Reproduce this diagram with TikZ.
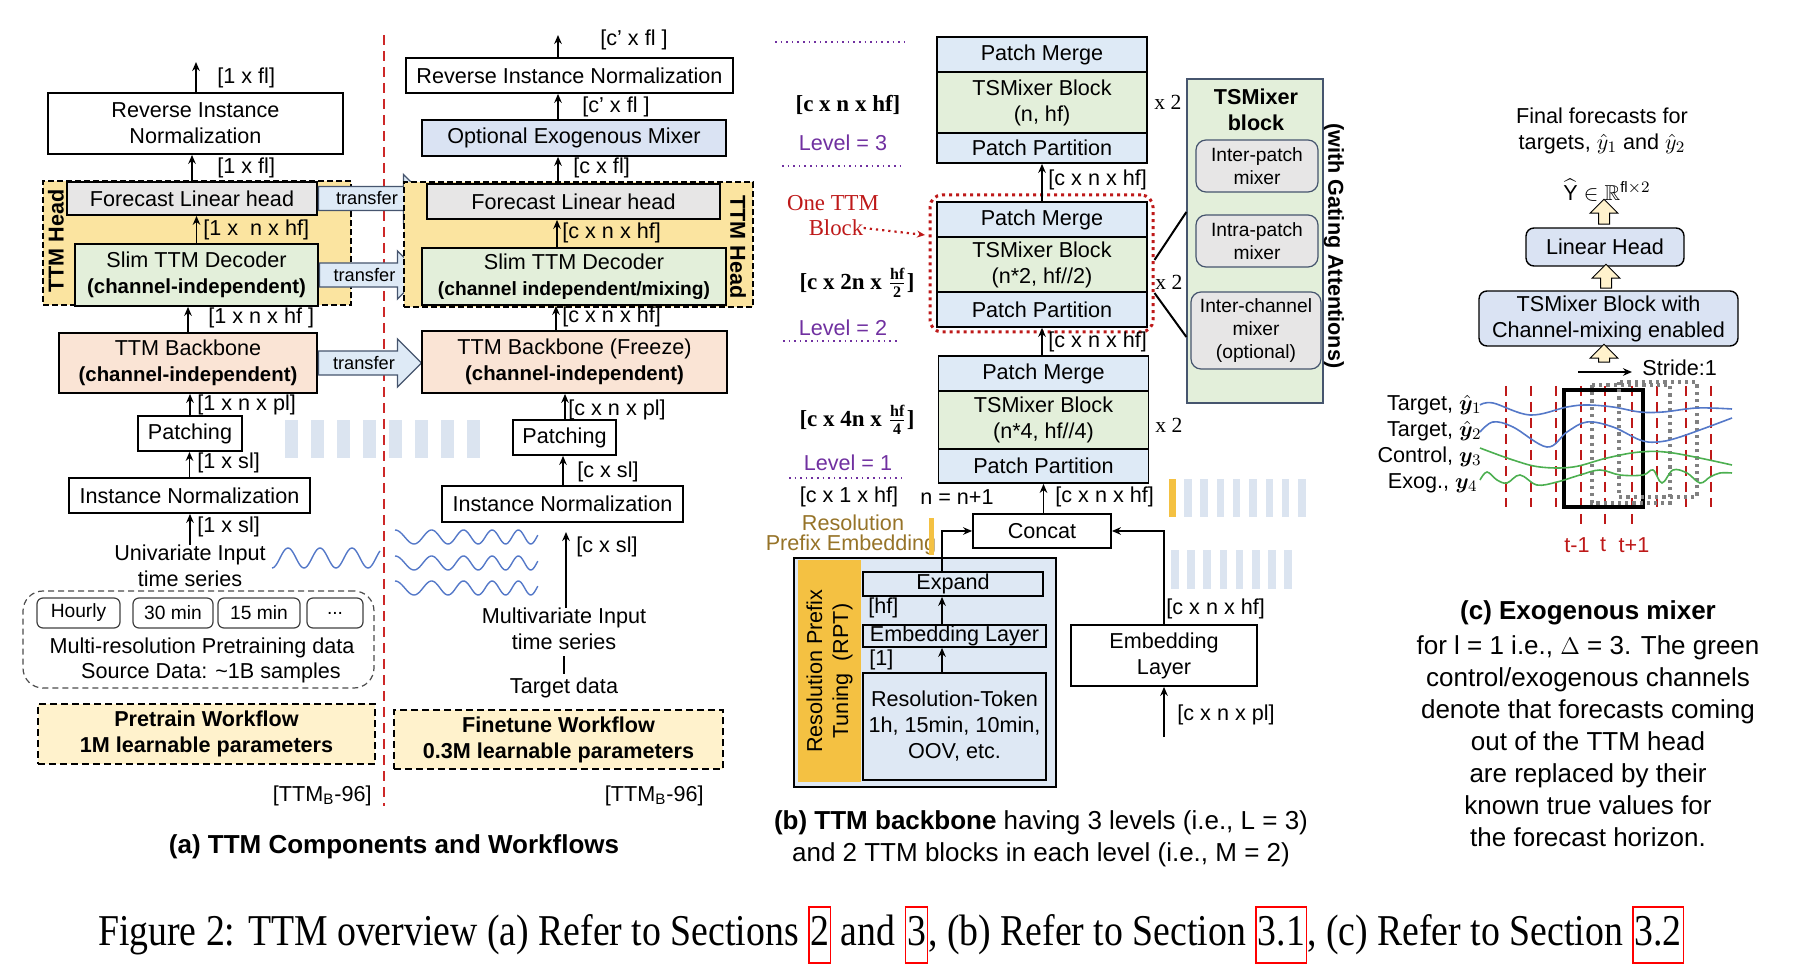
\documentclass[tikz,border=0pt]{standalone}
\usepackage{amsmath,amssymb,bm}
\usepackage{graphicx}
\usepackage{fontspec}
\setmainfont{Liberation Sans}
\newfontfamily\serifx{Liberation Serif}
\usetikzlibrary{arrows.meta,positioning,shapes.arrows,calc}
\definecolor{headyel}{RGB}{251,228,160}
\definecolor{boxgray}{RGB}{231,230,230}
\definecolor{boxgreen}{RGB}{227,239,218}
\definecolor{boxpeach}{RGB}{250,228,213}
\definecolor{boxblue}{RGB}{222,234,246}
\definecolor{exoblue}{RGB}{218,227,243}
\definecolor{cream}{RGB}{255,242,204}
\definecolor{rptblue}{RGB}{222,232,244}
\definecolor{rptgold}{RGB}{244,193,66}
\definecolor{barblue}{RGB}{219,228,240}
\definecolor{waveblue}{RGB}{84,120,200}
\definecolor{wavegreen}{RGB}{76,175,80}
\definecolor{sepred}{RGB}{205,40,40}
\definecolor{darkred}{RGB}{190,25,25}
\definecolor{lvlpurple}{RGB}{112,48,160}
\definecolor{olive}{RGB}{150,115,40}
\definecolor{edgeblue}{RGB}{70,85,110}
\newcommand{\fsA}{\fontsize{10.8}{13}\selectfont}
\newcommand{\fsB}{\fontsize{9.6}{11.5}\selectfont}
\newcommand{\fsT}{\fontsize{9.1}{11}\selectfont}
\newcommand{\fsC}{\fontsize{13}{16}\selectfont}
\newcommand{\bsub}[1]{{\fontsize{10.2}{12}\selectfont\bfseries #1}}
\newcommand{\lnk}[1]{\fcolorbox{red}{white}{\strut#1}}

\begin{document}
\begin{tikzpicture}[x=0.5pt, y=-0.5pt, >=Stealth,
  sz/.style 2 args={minimum width=#1*0.5pt, minimum height=#2*0.5pt},
  box/.style={draw, line width=0.9pt, inner sep=0pt, align=center, font=\fsA},
  hd/.style={draw, line width=1pt, dash pattern=on 3pt off 1.5pt, fill=headyel, inner sep=0pt},
  wf/.style={draw, line width=1pt, dash pattern=on 3.5pt off 2pt, fill=cream, inner sep=0pt,
    align=center, font=\fsA\bfseries},
  xfer/.style={single arrow, draw=edgeblue, fill=boxblue, line width=0.6pt, font=\fsT,
    inner xsep=2pt, inner ysep=2.4pt, single arrow head extend=6pt, anchor=tail},
  res/.style={draw=black!75, rounded corners=3pt, line width=0.6pt, inner sep=0pt, font=\fsB, sz={#1}{30}},
  flow/.style={->, line width=0.8pt, >={Stealth[length=4.5pt,width=3.8pt]}},
  dim/.style={font=\fsA, anchor=west, inner sep=0pt},
  lvl/.style={font=\fsA, text=lvlpurple, inner sep=0pt},
  shp/.style={font=\serifx\bfseries\fontsize{11.5}{13}\selectfont, inner sep=0pt},
  lvlline/.style={lvlpurple, line width=0.8pt, dotted},
  stk/.style={box, sz={210}{#1}},
  mixer/.style={draw=edgeblue, fill=boxgray, rounded corners=5pt, line width=0.6pt, inner sep=0pt,
    align=center, font=\fsB},
  uparr/.style={single arrow, rotate=90, draw, fill=cream, line width=0.5pt, inner xsep=0pt,
    inner ysep=2.5pt, single arrow head extend=4.25pt},
  tick/.style={darkred, line width=1.3pt, dash pattern=on 5pt off 3pt},
  wave/.style={waveblue, line width=0.7pt},
  sig/.style={line width=0.8pt, smooth, tension=0.6},
  captxt/.style={font=\fsC, align=center, inner sep=0pt}]
\useasboundingbox (0,0) rectangle (1806,978);
% (a) pretrain column
\node[hd, sz={308}{124}] (hdA) at (197,243) {};
\node[font=\fsA\bfseries, rotate=90, inner sep=0pt] (hdAt) at (56,241) {TTM Head};
\node[box, sz={295}{61}] (rinA) at (195.5,123.5) {Reverse Instance\\Normalization};
\node[box, fill=boxgray, sz={250}{33}] (flhA) at (192,198.5) {Forecast Linear head};
\node[box, fill=boxgreen, sz={243}{62}] (decA) at (196.5,275) {Slim TTM Decoder\\\bsub{(channel-independent)}};
\node[box, fill=boxpeach, sz={258}{60}] (bbA) at (188,363) {TTM Backbone\\\bsub{(channel-independent)}};
\node[box, sz={104}{35}] (patA) at (190,433.5) {Patching};
\node[box, sz={241}{35}] (inA) at (189.5,495.5) {Instance Normalization};
\node[align=center, font=\fsA, inner sep=0pt] (uniA) at (190,566) {Univariate Input\\time series};
\coordinate (outA) at (196,62);
\draw[flow] (rinA.north -| outA) -- (outA);
\draw[flow] (flhA.north) -- (flhA.north |- rinA.south);
\draw[flow] (decA.north) -- (decA.north |- flhA.south);
\draw[flow] (bbA.north) -- (bbA.north |- decA.south);
\draw[flow] (patA.north) -- (patA.north |- bbA.south);
\draw[flow] (inA.north) -- (inA.north |- patA.south);
\draw[flow] (uniA.north) -- (uniA.north |- inA.south);
\node[dim] at (217,78) {[1 x fl]};
\node[dim] at (217,168) {[1 x fl]};
\node[dim] at (203,230) {[1 x \ n x hf]};
\node[dim] at (208,318) {[1 x n x hf ]};
\node[dim] at (197,405) {[1 x n x pl]};
\node[dim] at (197,463) {[1 x sl]};
\node[dim] at (197,527) {[1 x sl]};
\draw[wave] plot[domain=272:380, samples=90] (\x, {558+10*cos(11.25*(\x-272))});
% pretraining data
\node[draw=black!70, dash pattern=on 3pt off 2pt, rounded corners=10pt, line width=0.6pt,
  sz={351}{97}] (dataA) at (198.5,639.5) {};
\node[res=83] (hrA) at (78.5,613) {Hourly};
\node[res=80] (m30A) at (173,613) {30 min};
\node[res=82] (m15A) at (259,613) {15 min};
\node[res=56] (dotA) at (335,613) {...};
\node[font=\fsA, inner sep=0pt] (mrA) at (202,648) {Multi-resolution Pretraining data};
\node[font=\fsA, inner sep=0pt] (srcA) at (211,673) {Source Data: \textasciitilde1B samples};
\node[wf, sz={337}{60}] (ptwf) at (206.5,734) {Pretrain Workflow\\1M learnable parameters};
\node[font=\fsA, inner sep=0pt, anchor=east] (ttmA) at (372,796) {[TTM\textsubscript{B}-96]};
% separator
\coordinate (sepT) at (384,35);
\coordinate (sepB) at (384,806);
\draw[sepred, line width=0.8pt, dash pattern=on 5pt off 3pt] (sepT) -- (sepB);
% transfer arrows
\node[xfer, minimum height=54.5pt] (tr1) at (flhA.east) {transfer};
\node[xfer, minimum height=51pt] (tr2) at (decA.east) {transfer};
\node[xfer, minimum height=51.5pt] (tr3) at (bbA.east) {transfer};
\foreach \i in {0,...,7}
  \fill[barblue] (285+26*\i,420) rectangle ++(13,38);
% (a) finetune column
\node[hd, sz={349}{125}] (hdB) at (578.5,244.5) {};
\node[font=\fsA\bfseries, rotate=-90, inner sep=0pt] (hdBt) at (738,247) {TTM Head};
\coordinate (outB) at (558,35);
\node[box, sz={327}{35}] (rinB) at (569.5,75.5) {Reverse Instance Normalization};
\node[box, fill=exoblue, sz={304}{36}] (oemB) at (574,138) {Optional Exogenous Mixer};
\node[box, fill=boxgray, sz={293}{35}] (flhB) at (573.5,201.5) {Forecast Linear head};
\node[box, fill=boxgreen, sz={304}{57}] (decB) at (574,276.5) {Slim TTM Decoder\\{\fsB\bfseries (channel independent/mixing)}};
\node[box, fill=boxpeach, sz={305}{62}] (bbB) at (574.5,362) {TTM Backbone (Freeze)\\\bsub{(channel-independent)}};
\node[box, sz={103}{35}] (patB) at (564.5,437.5) {Patching};
\node[box, sz={241}{36}] (inB) at (562.5,504) {Instance Normalization};
\node[align=center, font=\fsA, inner sep=0pt] (mviB) at (564,629) {Multivariate Input\\time series};
\node[font=\fsA, inner sep=0pt] (tgtB) at (564,688) {Target data};
\coordinate (inTopB) at (566,532);
\draw[flow] (rinB.north -| outB) -- (outB);
\draw[flow] (oemB.north -| outB) -- (rinB.south -| outB);
\draw[flow] (flhB.north -| outB) -- (oemB.south -| outB);
\draw[flow] (decB.north -| 557,0) -- (flhB.south -| 557,0);
\draw[flow] (bbB.north -| 556,0) -- (decB.south -| 556,0);
\draw[flow] (patB.north -| 565,0) -- (bbB.south -| 565,0);
\draw[flow] (inB.north -| 563,0) -- (patB.south -| 563,0);
\draw[flow] (mviB.north -| inTopB) -- (inTopB);
\draw[line width=0.8pt, shorten <=3pt, shorten >=2pt] (mviB.south) -- (tgtB.north);
\node[dim] at (600,40) {[c’ x fl ]};
\node[dim] at (582,107) {[c’ x fl ]};
\node[dim] at (573,168) {[c x fl]};
\node[dim] at (562,233) {[c x n x hf]};
\node[dim] at (562,317) {[c x n x hf]};
\node[dim] at (568,410) {[c x n x pl]};
\node[dim] at (577,472) {[c x sl]};
\node[dim] at (576,547) {[c x sl]};
\foreach \c in {537,563,588}
  \draw[wave] plot[domain=0:1, samples=120] (\x*143+395, {\c-7*cos(360*(3.6*\x+1.2*\x*\x))});
\node[wf, sz={329}{59}] (ftwf) at (558.5,739.5) {Finetune Workflow\\0.3M learnable parameters};
\node[font=\fsA, inner sep=0pt, anchor=east] (ttmB) at (704,796) {[TTM\textsubscript{B}-96]};
\node[font=\fontsize{13}{16}\selectfont\bfseries, inner sep=0pt] (capA) at (394,847) {(a) TTM Components and Workflows};
% (b) backbone levels
\draw[lvlline] (775,42) -- (904,42);
\draw[lvlline] (782,166) -- (902,166);
\draw[lvlline] (783,341) -- (897,341);
\draw[lvlline] (789,478) -- (902,478);
\node[shp] (sh3) at (848,105) {[c x n x hf]};
\node[lvl] (lv3) at (843,143) {Level = 3};
\node[shp] (sh2) at (857,283) {[c x 2n x $\frac{\text{hf}}{\text{2}}$]};
\node[lvl] (lv2) at (843,328) {Level = 2};
\node[shp] (sh1) at (857,420) {[c x 4n x $\frac{\text{hf}}{\text{4}}$]};
\node[lvl] (lv1) at (848,463) {Level = 1};
\node[font=\serifx\fontsize{11.4}{13}\selectfont, text=darkred, inner sep=0pt] (ottm1) at (833,203) {One TTM};
\node[font=\serifx\fontsize{11.4}{13}\selectfont, text=darkred, inner sep=0pt] (ottm2) at (836,228) {Block};
\node[stk=35, fill=boxblue] (pm3) at (1042,54.5) {Patch Merge};
\node[stk=61, fill=boxgreen] (ts3) at (1042,102.5) {TSMixer Block\\(n, hf)};
\node[stk=30, fill=boxblue] (pp3) at (1042,148) {Patch Partition};
\node[stk=35, fill=boxblue] (pm2) at (1042,219.5) {Patch Merge};
\node[stk=55, fill=boxgreen] (ts2) at (1042,264.5) {TSMixer Block\\(n*2, hf//2)};
\node[stk=35, fill=boxblue] (pp2) at (1042,309.5) {Patch Partition};
\node[stk=35, fill=boxblue] (pm1) at (1043.5,373.5) {Patch Merge};
\node[stk=58, fill=boxgreen] (ts1) at (1043.5,420) {TSMixer Block\\(n*4, hf//4)};
\node[stk=34, fill=boxblue] (pp1) at (1043.5,466) {Patch Partition};
\node[draw=darkred, dotted, line width=1.5pt, rounded corners=6pt, sz={223}{137}] (blk) at (1041.5,263.5) {};
\coordinate (ottmTip) at (925,235);
\draw[->, darkred, dotted, line width=1.1pt, >={Stealth[length=4pt,width=3.5pt]}] (ottm2.east) -- (ottmTip);
\node[font=\serifx\fontsize{10.8}{13}\selectfont, inner sep=0pt, anchor=west] (x2a) at (1154,102) {x 2};
\node[font=\serifx\fontsize{10.8}{13}\selectfont, inner sep=0pt, anchor=west] (x2b) at (1155,282) {x 2};
\node[font=\serifx\fontsize{10.8}{13}\selectfont, inner sep=0pt, anchor=west] (x2c) at (1155,425) {x 2};
\draw[flow] (pm2.north) -- (pp3.south);
\draw[flow] (pm1.north -| pm2.north) -- (pp2.south);
\node[dim] at (1048,180) {[c x n x hf]};
\node[dim] at (1048,342) {[c x n x hf]};
% (b) input path
\node[box, sz={138}{34}] (concat) at (1042,531) {Concat};
\draw[flow] (concat.north -| pp1.south) -- (pp1.south);
\node[dim] at (1055,497) {[c x n x hf]};
\node[font=\fsA, inner sep=0pt] (rsl) at (849,497) {[c x 1 x hf]};
\node[font=\fsA, inner sep=0pt] (nn) at (957,497) {n = n+1};
\node[font=\fsA, text=olive, inner sep=0pt] (rpe1) at (853,523) {Resolution};
\node[font=\fsA, text=olive, inner sep=0pt] (rpe2) at (851,545) {Prefix Embedding};
\fill[rptgold] (929,518) rectangle (934,555);
\node[box, fill=rptblue, sz={262}{229}] (rpt) at (925,672.5) {};
\node[fill=rptgold, inner sep=0pt, sz={63}{222}] (rptband) at (829.5,671) {};
\node[font=\fsA, rotate=90, align=center, inner sep=0pt] (rptt) at (rptband) {Resolution Prefix\\Tuning \ (RPT)};
\node[box, sz={180}{24}] (expand) at (953,584) {Expand};
\node[box, sz={183}{22}] (embl) at (954.5,636) {Embedding Layer};
\node[box, sz={183}{107}] (restok) at (954.5,726.5) {Resolution-Token\\1h, 15min, 10min,\\OOV, etc.};
\coordinate (rptx) at (942,0);
\draw[flow] (restok.north -| rptx) -- (embl.south -| rptx);
\draw[flow] (embl.north -| rptx) -- (expand.south -| rptx);
\draw[flow] (expand.north -| rptx) |- (concat.west);
\node[dim] at (868,608) {[hf]};
\node[dim] at (869,660) {[1]};
\node[box, sz={186}{61}] (embr) at (1164,655.5) {Embedding\\Layer};
\coordinate (inR) at (1164,737);
\draw[flow] (embr.north) |- (concat.east);
\draw[flow] (inR) -- (embr.south);
\node[dim] at (1166,609) {[c x n x hf]};
\node[dim] at (1177,715) {[c x n x pl]};
\fill[rptgold] (1169,479) rectangle (1176,517);
\foreach \i in {0,...,7} {
  \fill[barblue] (1184+16.3*\i,479) rectangle ++(7.5,38);
  \fill[barblue] (1171+16.2*\i,550) rectangle ++(7.5,39);
}
% TSMixer block detail
\node[draw=edgeblue, fill=boxgreen, line width=0.6pt, sz={136}{324}] (tsblk) at (1255,241) {};
\node[font=\fsA\bfseries, align=center, inner sep=0pt] (tsblkt) at (1256,110) {TSMixer\\block};
\node[mixer, sz={122}{52}] (mixA) at (1257,166) {Inter-patch\\mixer};
\node[mixer, sz={122}{52}] (mixB) at (1257,241) {Intra-patch\\mixer};
\node[mixer, sz={130}{77}] (mixC) at (1256,330.5) {Inter-channel\\mixer\\(optional)};
\node[font=\fsA\bfseries, rotate=-90, inner sep=0pt] (gat) at (1334,246) {(with Gating Attentions)};
\draw[line width=1pt] ([yshift=1.75pt]blk.east) -- ([yshift=14.5pt]tsblk.west);
\draw[line width=1pt] ([yshift=-14.75pt]blk.east) -- ([yshift=-48pt]tsblk.west);
\node[captxt] (capB) at (1041,838.5) {\textbf{(b) TTM backbone} having 3 levels (i.e., L = 3)\\and 2 TTM blocks in each level (i.e., M = 2)};
% (c) exogenous mixer
\node[font=\fsA, align=center, inner sep=0pt] (ffc) at (1602,131) {Final forecasts for\\targets, $\hat{y}_1$ and $\hat{y}_2$};
\node[font=\fsA, inner sep=0pt] (yhat) at (1607,190) {$\widehat{\mathrm{Y}}\in\mathbb{R}^{\mathrm{fl}\times 2}$};
\node[uparr, minimum height=12.5pt] (ua1) at (1604,214.5) {};
\node[box, fill=exoblue, rounded corners=4pt, line width=0.7pt, sz={158}{38}] (linH) at (1605,247) {Linear Head};
\node[uparr, minimum height=12pt] (ua2) at (1606,279) {};
\node[box, fill=exoblue, rounded corners=4pt, line width=0.7pt, sz={259}{55}] (tsmH) at (1608.5,318.5) {TSMixer Block with\\Channel-mixing enabled};
\node[uparr, minimum height=9pt] (ua3) at (1604,356) {};
\coordinate (st1) at (1578,372);
\node[font=\fsA, inner sep=0pt, anchor=west] (stride) at (1642,368) {Stride:1};
\draw[flow, line width=1pt] (st1) -- ([xshift=-5pt]st1 -| stride.west);
\foreach \t in {1506,1531,1556,1657,1686,1711}
  \draw[tick] (\t,386) -- (\t,507);
\foreach \t in {1581,1605,1632}
  \draw[tick] (\t,386) -- (\t,528);
\draw[line width=2pt] (1564,390) rectangle (1643,507);
\draw[gray, dotted, line width=1.6pt] (1592,385) rectangle (1670,503);
\draw[gray, dotted, line width=1.6pt] (1619,382) rectangle (1697,497);
\node[font=\fsA, inner sep=0pt, anchor=east] (sy1) at (1482,405) {Target, $\hat{\bm y}_1$};
\node[font=\fsA, inner sep=0pt, anchor=east] (sy2) at (1482,431) {Target, $\hat{\bm y}_2$};
\node[font=\fsA, inner sep=0pt, anchor=east] (sy3) at (1482,457) {Control, ${\bm y}_3$};
\node[font=\fsA, inner sep=0pt, anchor=east] (sy4) at (1478,483) {Exog., ${\bm y}_4$};
\draw[sig, waveblue] plot coordinates {(1480,405) (1493,403) (1530,415) (1567,407) (1587,405) (1613,407) (1640,412) (1663,412) (1697,408) (1732,409)};
\draw[sig, waveblue] plot coordinates {(1480,432) (1493,422) (1513,427) (1547,447) (1567,432) (1587,422) (1613,427) (1640,440) (1657,442) (1680,437) (1732,418)};
\draw[sig, wavegreen] plot coordinates {(1480,448) (1513,460) (1540,467) (1573,467) (1607,458) (1640,452) (1673,453) (1732,465)};
\draw[sig, wavegreen] plot coordinates {(1480,480) (1487,472) (1497,480) (1507,483) (1520,475) (1537,485) (1557,482) (1580,475) (1600,470) (1620,475) (1643,475) (1653,470) (1662,483) (1673,470) (1687,473) (1700,483) (1710,477) (1720,473) (1732,473)};
\node[font=\fsA, text=darkred, inner sep=0pt] (tm1) at (1577,545) {t-1};
\node[font=\fsA, text=darkred, inner sep=0pt] (t0) at (1603,545) {t};
\node[font=\fsA, text=darkred, inner sep=0pt] (tp1) at (1634,545) {t+1};
\node[font=\fontsize{13}{16}\selectfont\bfseries, inner sep=0pt] (capCt) at (1588,613) {(c) Exogenous mixer};
\node[captxt] (capC) at (1588,741.5) {for l = 1 i.e., $\Delta$ = 3. The green\\control/exogenous channels\\denote that forecasts coming\\out of the TTM head\\are replaced by their\\known true values for\\the forecast horizon.};
% figure caption
\node[font=\serifx\fontsize{22}{26}\selectfont, inner sep=0pt] (figcap) at (891,935)
  {\setlength{\fboxsep}{0.5pt}\setlength{\fboxrule}{0.8pt}\resizebox{793pt}{\height}{Figure 2: TTM overview (a) Refer to Sections \lnk{2} and \lnk{3}, (b) Refer to Section \lnk{3.1}, (c) Refer to Section \lnk{3.2}}};
\end{tikzpicture}
\end{document}
